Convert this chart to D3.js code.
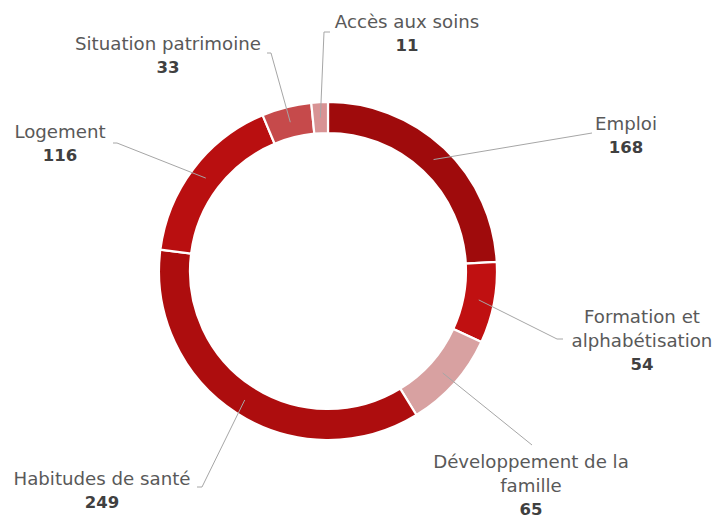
<!DOCTYPE html>
<html><head><meta charset="utf-8">
<script src="https://cdn.jsdelivr.net/npm/d3@7"></script>
<style>
html,body{margin:0;padding:0;background:#fff;}
svg{display:block;}
</style></head>
<body>
<svg id="chart" width="714" height="518"></svg>
<script>
const categories = ["Emploi", "Formation et\nalphabétisation", "Développement de la\nfamille", "Habitudes de santé", "Logement", "Situation patrimoine", "Accès aux soins"];
const values = [168, 54, 65, 249, 116, 33, 11];
const colors = ["#9f0b0c", "#c01011", "#d8a1a1", "#ad0d0e", "#b90f10", "#c64a4b", "#d89394"];
// label layout: [center x, first baseline y]
const labelPos = [[626,130],[642,323],[531,468],[102,485],[60,138],[168,50],[407,28]];
// leader polyline points after the slice centroid
const leaderPts = [[[592,133]],[[557,339],[563,339]],[[532,445]],[[202,487],[197,487]],[[117,143],[113,143]],[[271,53],[267,53]],[[324,32],[330,32]]];

const svg = d3.select("#chart");
const cx = 328, cy = 271, rOut = 169, rIn = 138;
const g = svg.append("g").attr("transform", `translate(${cx},${cy})`);
const pie = d3.pie().sort(null).value(d => d.v);
const data = values.map((v,i)=>({v, name:categories[i], color:colors[i], i}));
const arcs = pie(data);
const arc = d3.arc().innerRadius(rIn).outerRadius(rOut);
g.selectAll("path.slice").data(arcs).enter().append("path")
  .attr("class","slice")
  .attr("d", arc)
  .attr("fill", d => d.data.color)
  .attr("stroke", "#fff").attr("stroke-width", 2.2).attr("stroke-linejoin","miter");

const line = d3.line();
arcs.forEach(a => {
  const c = arc.centroid(a);
  const pts = [[c[0]+cx, c[1]+cy], ...leaderPts[a.data.i]];
  svg.append("path").attr("d", line(pts)).attr("fill","none")
    .attr("stroke","#a6a6a6").attr("stroke-width",1);
});

arcs.forEach(a => {
  const [lx, ly] = labelPos[a.data.i];
  const lines = a.data.name.split("\n");
  const t = svg.append("text").attr("text-anchor","middle")
    .attr("font-family","'DejaVu Sans', sans-serif");
  lines.forEach((s,k) => {
    t.append("tspan").attr("x", lx).attr("y", ly + k*24)
      .attr("font-size", 18.2).attr("fill","#595959").text(s);
  });
  t.append("tspan").attr("x", lx).attr("y", ly + (lines.length-1)*24 + 23)
    .attr("font-size", 16.5).attr("font-weight","bold").attr("fill","#404040")
    .text(a.data.v);
});
</script>
</body></html>
